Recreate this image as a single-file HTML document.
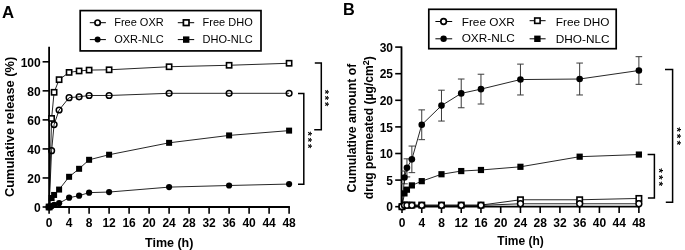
<!DOCTYPE html>
<html><head><meta charset="utf-8"><style>
html,body{margin:0;padding:0;background:#fff;}
body{width:685px;height:250px;overflow:hidden;}
svg{display:block;will-change:transform;}
</style></head><body>
<svg width="685" height="250" viewBox="0 0 685 250">
<rect width="685" height="250" fill="#fff"/>
<text x="2.0" y="18.0" font-family="'Liberation Sans', sans-serif" font-weight="bold" font-size="16.8">A</text>
<rect x="80.2" y="10.6" width="180.8" height="40.3" fill="none" stroke="#000" stroke-width="1.7"/>
<path d="M89.8,22.7H105.9M89.8,39.6H105.9M177.8,22.7H194.2M177.8,39.6H194.2" stroke="#000" stroke-width="1"/>
<circle cx="97.60" cy="22.70" r="2.70" fill="#fff" stroke="#000" stroke-width="1.7"/>
<circle cx="97.60" cy="39.60" r="3.00" fill="#000"/>
<rect x="183.40" y="19.90" width="5.60" height="5.60" fill="#fff" stroke="#000" stroke-width="1.7"/>
<rect x="183.00" y="36.40" width="6.40" height="6.40" fill="#000"/>
<text x="114.2" y="26.0" font-family="'Liberation Sans', sans-serif" font-size="11">Free OXR</text>
<text x="114.2" y="43.4" font-family="'Liberation Sans', sans-serif" font-size="11">OXR-NLC</text>
<text x="202.6" y="26.0" font-family="'Liberation Sans', sans-serif" font-size="11">Free DHO</text>
<text x="202.6" y="43.4" font-family="'Liberation Sans', sans-serif" font-size="11">DHO-NLC</text>
<path d="M49.1,46.8V207.9M48.2,207.0H289.90000000000003" stroke="#000" stroke-width="1.8" fill="none"/>
<path d="M42.6,207.00H49.1" stroke="#000" stroke-width="1.6"/>
<text x="40.7" y="212.00" font-family="'Liberation Sans', sans-serif" font-weight="bold" font-size="12" text-anchor="end">0</text>
<path d="M42.6,177.96H49.1" stroke="#000" stroke-width="1.6"/>
<text x="40.7" y="182.96" font-family="'Liberation Sans', sans-serif" font-weight="bold" font-size="12" text-anchor="end">20</text>
<path d="M42.6,148.92H49.1" stroke="#000" stroke-width="1.6"/>
<text x="40.7" y="153.92" font-family="'Liberation Sans', sans-serif" font-weight="bold" font-size="12" text-anchor="end">40</text>
<path d="M42.6,119.88H49.1" stroke="#000" stroke-width="1.6"/>
<text x="40.7" y="124.88" font-family="'Liberation Sans', sans-serif" font-weight="bold" font-size="12" text-anchor="end">60</text>
<path d="M42.6,90.84H49.1" stroke="#000" stroke-width="1.6"/>
<text x="40.7" y="95.84" font-family="'Liberation Sans', sans-serif" font-weight="bold" font-size="12" text-anchor="end">80</text>
<path d="M42.6,61.80H49.1" stroke="#000" stroke-width="1.6"/>
<text x="40.7" y="66.80" font-family="'Liberation Sans', sans-serif" font-weight="bold" font-size="12" text-anchor="end">100</text>
<path d="M49.10,207.0V213.8" stroke="#000" stroke-width="1.6"/>
<text x="49.10" y="227.4" font-family="'Liberation Sans', sans-serif" font-weight="bold" font-size="12" text-anchor="middle">0</text>
<path d="M69.10,207.0V213.8" stroke="#000" stroke-width="1.6"/>
<text x="69.10" y="227.4" font-family="'Liberation Sans', sans-serif" font-weight="bold" font-size="12" text-anchor="middle">4</text>
<path d="M89.10,207.0V213.8" stroke="#000" stroke-width="1.6"/>
<text x="89.10" y="227.4" font-family="'Liberation Sans', sans-serif" font-weight="bold" font-size="12" text-anchor="middle">8</text>
<path d="M109.10,207.0V213.8" stroke="#000" stroke-width="1.6"/>
<text x="109.10" y="227.4" font-family="'Liberation Sans', sans-serif" font-weight="bold" font-size="12" text-anchor="middle">12</text>
<path d="M129.10,207.0V213.8" stroke="#000" stroke-width="1.6"/>
<text x="129.10" y="227.4" font-family="'Liberation Sans', sans-serif" font-weight="bold" font-size="12" text-anchor="middle">16</text>
<path d="M149.10,207.0V213.8" stroke="#000" stroke-width="1.6"/>
<text x="149.10" y="227.4" font-family="'Liberation Sans', sans-serif" font-weight="bold" font-size="12" text-anchor="middle">20</text>
<path d="M169.10,207.0V213.8" stroke="#000" stroke-width="1.6"/>
<text x="169.10" y="227.4" font-family="'Liberation Sans', sans-serif" font-weight="bold" font-size="12" text-anchor="middle">24</text>
<path d="M189.10,207.0V213.8" stroke="#000" stroke-width="1.6"/>
<text x="189.10" y="227.4" font-family="'Liberation Sans', sans-serif" font-weight="bold" font-size="12" text-anchor="middle">28</text>
<path d="M209.10,207.0V213.8" stroke="#000" stroke-width="1.6"/>
<text x="209.10" y="227.4" font-family="'Liberation Sans', sans-serif" font-weight="bold" font-size="12" text-anchor="middle">32</text>
<path d="M229.10,207.0V213.8" stroke="#000" stroke-width="1.6"/>
<text x="229.10" y="227.4" font-family="'Liberation Sans', sans-serif" font-weight="bold" font-size="12" text-anchor="middle">36</text>
<path d="M249.10,207.0V213.8" stroke="#000" stroke-width="1.6"/>
<text x="249.10" y="227.4" font-family="'Liberation Sans', sans-serif" font-weight="bold" font-size="12" text-anchor="middle">40</text>
<path d="M269.10,207.0V213.8" stroke="#000" stroke-width="1.6"/>
<text x="269.10" y="227.4" font-family="'Liberation Sans', sans-serif" font-weight="bold" font-size="12" text-anchor="middle">44</text>
<path d="M289.10,207.0V213.8" stroke="#000" stroke-width="1.6"/>
<text x="289.10" y="227.4" font-family="'Liberation Sans', sans-serif" font-weight="bold" font-size="12" text-anchor="middle">48</text>
<text x="169.2" y="246.6" font-family="'Liberation Sans', sans-serif" font-weight="bold" font-size="12.5" text-anchor="middle">Time (h)</text>
<text transform="translate(14,126.9) rotate(-90)" font-family="'Liberation Sans', sans-serif" font-weight="bold" font-size="12.8" text-anchor="middle">Cumulative release (%)</text>
<path d="M314.8,63H321.3V129.8H314.2" stroke="#000" stroke-width="1.5" fill="none"/>
<path d="M298,93.4H303.8V184.2H298" stroke="#000" stroke-width="1.5" fill="none"/>
<text transform="translate(321.20,89.74) rotate(90)" font-family="'Liberation Sans', sans-serif" font-weight="bold" font-size="11.0">*</text>
<text transform="translate(321.20,95.84) rotate(90)" font-family="'Liberation Sans', sans-serif" font-weight="bold" font-size="11.0">*</text>
<text transform="translate(321.20,101.94) rotate(90)" font-family="'Liberation Sans', sans-serif" font-weight="bold" font-size="11.0">*</text>
<text transform="translate(304.10,131.54) rotate(90)" font-family="'Liberation Sans', sans-serif" font-weight="bold" font-size="11.0">*</text>
<text transform="translate(304.10,137.74) rotate(90)" font-family="'Liberation Sans', sans-serif" font-weight="bold" font-size="11.0">*</text>
<text transform="translate(304.10,143.94) rotate(90)" font-family="'Liberation Sans', sans-serif" font-weight="bold" font-size="11.0">*</text>
<polyline points="49.10,207.00 51.60,206.13 54.10,204.97 59.10,203.22 69.10,197.71 79.10,195.67 89.10,192.63 109.10,192.04 169.10,187.11 229.10,185.51 289.10,184.06" fill="none" stroke="#000" stroke-width="0.85"/>
<polyline points="49.10,207.00 51.60,198.00 54.10,194.95 59.10,189.58 69.10,176.80 79.10,168.81 89.10,159.81 109.10,154.73 169.10,142.82 229.10,135.42 289.10,130.62" fill="none" stroke="#000" stroke-width="0.85"/>
<polyline points="49.10,207.00 51.60,150.66 54.10,124.53 59.10,110.01 69.10,97.66 79.10,96.79 89.10,95.49 109.10,95.49 169.10,93.31 229.10,93.31 289.10,93.31" fill="none" stroke="#000" stroke-width="0.85"/>
<polyline points="49.10,207.00 51.60,118.43 54.10,92.29 59.10,79.66 69.10,72.40 79.10,70.95 89.10,70.08 109.10,69.79 169.10,66.74 229.10,65.28 289.10,63.25" fill="none" stroke="#000" stroke-width="0.85"/>
<circle cx="49.10" cy="207.00" r="2.85" fill="none" stroke="#000" stroke-width="1.5"/>
<circle cx="51.60" cy="150.66" r="2.85" fill="none" stroke="#000" stroke-width="1.5"/>
<circle cx="54.10" cy="124.53" r="2.85" fill="none" stroke="#000" stroke-width="1.5"/>
<circle cx="59.10" cy="110.01" r="2.85" fill="none" stroke="#000" stroke-width="1.5"/>
<circle cx="69.10" cy="97.66" r="2.85" fill="none" stroke="#000" stroke-width="1.5"/>
<circle cx="79.10" cy="96.79" r="2.85" fill="none" stroke="#000" stroke-width="1.5"/>
<circle cx="89.10" cy="95.49" r="2.85" fill="none" stroke="#000" stroke-width="1.5"/>
<circle cx="109.10" cy="95.49" r="2.85" fill="none" stroke="#000" stroke-width="1.5"/>
<circle cx="169.10" cy="93.31" r="2.85" fill="none" stroke="#000" stroke-width="1.5"/>
<circle cx="229.10" cy="93.31" r="2.85" fill="none" stroke="#000" stroke-width="1.5"/>
<circle cx="289.10" cy="93.31" r="2.85" fill="none" stroke="#000" stroke-width="1.5"/>
<rect x="46.50" y="204.40" width="5.20" height="5.20" fill="#fff" stroke="#000" stroke-width="1.6"/>
<rect x="49.00" y="115.83" width="5.20" height="5.20" fill="#fff" stroke="#000" stroke-width="1.6"/>
<rect x="51.50" y="89.69" width="5.20" height="5.20" fill="#fff" stroke="#000" stroke-width="1.6"/>
<rect x="56.50" y="77.06" width="5.20" height="5.20" fill="#fff" stroke="#000" stroke-width="1.6"/>
<rect x="66.50" y="69.80" width="5.20" height="5.20" fill="#fff" stroke="#000" stroke-width="1.6"/>
<rect x="76.50" y="68.35" width="5.20" height="5.20" fill="#fff" stroke="#000" stroke-width="1.6"/>
<rect x="86.50" y="67.48" width="5.20" height="5.20" fill="#fff" stroke="#000" stroke-width="1.6"/>
<rect x="106.50" y="67.19" width="5.20" height="5.20" fill="#fff" stroke="#000" stroke-width="1.6"/>
<rect x="166.50" y="64.14" width="5.20" height="5.20" fill="#fff" stroke="#000" stroke-width="1.6"/>
<rect x="226.50" y="62.68" width="5.20" height="5.20" fill="#fff" stroke="#000" stroke-width="1.6"/>
<rect x="286.50" y="60.65" width="5.20" height="5.20" fill="#fff" stroke="#000" stroke-width="1.6"/>
<circle cx="49.10" cy="207.00" r="3.10" fill="#000"/>
<circle cx="51.60" cy="206.13" r="3.10" fill="#000"/>
<circle cx="54.10" cy="204.97" r="3.10" fill="#000"/>
<circle cx="59.10" cy="203.22" r="3.10" fill="#000"/>
<circle cx="69.10" cy="197.71" r="3.10" fill="#000"/>
<circle cx="79.10" cy="195.67" r="3.10" fill="#000"/>
<circle cx="89.10" cy="192.63" r="3.10" fill="#000"/>
<circle cx="109.10" cy="192.04" r="3.10" fill="#000"/>
<circle cx="169.10" cy="187.11" r="3.10" fill="#000"/>
<circle cx="229.10" cy="185.51" r="3.10" fill="#000"/>
<circle cx="289.10" cy="184.06" r="3.10" fill="#000"/>
<rect x="46.10" y="204.00" width="6.00" height="6.00" fill="#000"/>
<rect x="48.60" y="195.00" width="6.00" height="6.00" fill="#000"/>
<rect x="51.10" y="191.95" width="6.00" height="6.00" fill="#000"/>
<rect x="56.10" y="186.58" width="6.00" height="6.00" fill="#000"/>
<rect x="66.10" y="173.80" width="6.00" height="6.00" fill="#000"/>
<rect x="76.10" y="165.81" width="6.00" height="6.00" fill="#000"/>
<rect x="86.10" y="156.81" width="6.00" height="6.00" fill="#000"/>
<rect x="106.10" y="151.73" width="6.00" height="6.00" fill="#000"/>
<rect x="166.10" y="139.82" width="6.00" height="6.00" fill="#000"/>
<rect x="226.10" y="132.42" width="6.00" height="6.00" fill="#000"/>
<rect x="286.10" y="127.62" width="6.00" height="6.00" fill="#000"/>
<text x="343.1" y="15" font-family="'Liberation Sans', sans-serif" font-weight="bold" font-size="16.3">B</text>
<rect x="428.8" y="9.3" width="187.4" height="39.4" fill="none" stroke="#000" stroke-width="1.7"/>
<path d="M435.4,21.5H452.2M435.4,38.8H452.2M529.6,20.7H545.6M529.6,38.8H545.6" stroke="#000" stroke-width="1"/>
<circle cx="443.60" cy="21.50" r="2.80" fill="#fff" stroke="#000" stroke-width="1.7"/>
<circle cx="443.60" cy="38.80" r="3.20" fill="#000"/>
<rect x="534.70" y="18.00" width="5.40" height="5.40" fill="#fff" stroke="#000" stroke-width="1.6"/>
<rect x="534.20" y="35.60" width="6.40" height="6.40" fill="#000"/>
<text x="461.7" y="25.7" font-family="'Liberation Sans', sans-serif" font-size="11.8">Free OXR</text>
<text x="461.7" y="42.4" font-family="'Liberation Sans', sans-serif" font-size="11.8">OXR-NLC</text>
<text x="555.8" y="25.7" font-family="'Liberation Sans', sans-serif" font-size="11.8">Free DHO</text>
<text x="555.8" y="42.7" font-family="'Liberation Sans', sans-serif" font-size="11.8">DHO-NLC</text>
<path d="M401.5,46.4V207.6M400.6,206.7H639.68" stroke="#000" stroke-width="1.8" fill="none"/>
<path d="M395.2,206.70H401.5" stroke="#000" stroke-width="1.6"/>
<text x="393.0" y="211.30" font-family="'Liberation Sans', sans-serif" font-weight="bold" font-size="12" text-anchor="end">0</text>
<path d="M395.2,180.10H401.5" stroke="#000" stroke-width="1.6"/>
<text x="393.0" y="184.70" font-family="'Liberation Sans', sans-serif" font-weight="bold" font-size="12" text-anchor="end">5</text>
<path d="M395.2,153.50H401.5" stroke="#000" stroke-width="1.6"/>
<text x="393.0" y="158.10" font-family="'Liberation Sans', sans-serif" font-weight="bold" font-size="12" text-anchor="end">10</text>
<path d="M395.2,126.90H401.5" stroke="#000" stroke-width="1.6"/>
<text x="393.0" y="131.50" font-family="'Liberation Sans', sans-serif" font-weight="bold" font-size="12" text-anchor="end">15</text>
<path d="M395.2,100.30H401.5" stroke="#000" stroke-width="1.6"/>
<text x="393.0" y="104.90" font-family="'Liberation Sans', sans-serif" font-weight="bold" font-size="12" text-anchor="end">20</text>
<path d="M395.2,73.70H401.5" stroke="#000" stroke-width="1.6"/>
<text x="393.0" y="78.30" font-family="'Liberation Sans', sans-serif" font-weight="bold" font-size="12" text-anchor="end">25</text>
<path d="M395.2,47.10H401.5" stroke="#000" stroke-width="1.6"/>
<text x="393.0" y="51.70" font-family="'Liberation Sans', sans-serif" font-weight="bold" font-size="12" text-anchor="end">30</text>
<path d="M402.00,206.7V213" stroke="#000" stroke-width="1.6"/>
<text x="402.00" y="227.4" font-family="'Liberation Sans', sans-serif" font-weight="bold" font-size="12" text-anchor="middle">0</text>
<path d="M421.74,206.7V213" stroke="#000" stroke-width="1.6"/>
<text x="421.74" y="227.4" font-family="'Liberation Sans', sans-serif" font-weight="bold" font-size="12" text-anchor="middle">4</text>
<path d="M441.48,206.7V213" stroke="#000" stroke-width="1.6"/>
<text x="441.48" y="227.4" font-family="'Liberation Sans', sans-serif" font-weight="bold" font-size="12" text-anchor="middle">8</text>
<path d="M461.22,206.7V213" stroke="#000" stroke-width="1.6"/>
<text x="461.22" y="227.4" font-family="'Liberation Sans', sans-serif" font-weight="bold" font-size="12" text-anchor="middle">12</text>
<path d="M480.96,206.7V213" stroke="#000" stroke-width="1.6"/>
<text x="480.96" y="227.4" font-family="'Liberation Sans', sans-serif" font-weight="bold" font-size="12" text-anchor="middle">16</text>
<path d="M500.70,206.7V213" stroke="#000" stroke-width="1.6"/>
<text x="500.70" y="227.4" font-family="'Liberation Sans', sans-serif" font-weight="bold" font-size="12" text-anchor="middle">20</text>
<path d="M520.44,206.7V213" stroke="#000" stroke-width="1.6"/>
<text x="520.44" y="227.4" font-family="'Liberation Sans', sans-serif" font-weight="bold" font-size="12" text-anchor="middle">24</text>
<path d="M540.18,206.7V213" stroke="#000" stroke-width="1.6"/>
<text x="540.18" y="227.4" font-family="'Liberation Sans', sans-serif" font-weight="bold" font-size="12" text-anchor="middle">28</text>
<path d="M559.92,206.7V213" stroke="#000" stroke-width="1.6"/>
<text x="559.92" y="227.4" font-family="'Liberation Sans', sans-serif" font-weight="bold" font-size="12" text-anchor="middle">32</text>
<path d="M579.66,206.7V213" stroke="#000" stroke-width="1.6"/>
<text x="579.66" y="227.4" font-family="'Liberation Sans', sans-serif" font-weight="bold" font-size="12" text-anchor="middle">36</text>
<path d="M599.40,206.7V213" stroke="#000" stroke-width="1.6"/>
<text x="599.40" y="227.4" font-family="'Liberation Sans', sans-serif" font-weight="bold" font-size="12" text-anchor="middle">40</text>
<path d="M619.14,206.7V213" stroke="#000" stroke-width="1.6"/>
<text x="619.14" y="227.4" font-family="'Liberation Sans', sans-serif" font-weight="bold" font-size="12" text-anchor="middle">44</text>
<path d="M638.88,206.7V213" stroke="#000" stroke-width="1.6"/>
<text x="638.88" y="227.4" font-family="'Liberation Sans', sans-serif" font-weight="bold" font-size="12" text-anchor="middle">48</text>
<text x="520.5" y="245.0" font-family="'Liberation Sans', sans-serif" font-weight="bold" font-size="12" text-anchor="middle">Time (h)</text>
<text transform="translate(355.8,128.1) rotate(-90)" font-family="'Liberation Sans', sans-serif" font-weight="bold" font-size="12.25" text-anchor="middle">Cumulative amount of</text>
<text transform="translate(373.4,127.7) rotate(-90)" font-family="'Liberation Sans', sans-serif" font-weight="bold" font-size="12.1" text-anchor="middle">drug permeated (µg/cm<tspan font-size="9" dy="-4.8">2</tspan><tspan dy="4.8">)</tspan></text>
<path d="M665,69.5H672.6V202.2H665.8" stroke="#000" stroke-width="1.5" fill="none"/>
<path d="M647.6,154.6H654.4V198H647.9" stroke="#000" stroke-width="1.5" fill="none"/>
<text transform="translate(672.70,127.19) rotate(90)" font-family="'Liberation Sans', sans-serif" font-weight="bold" font-size="11.8">*</text>
<text transform="translate(672.70,133.79) rotate(90)" font-family="'Liberation Sans', sans-serif" font-weight="bold" font-size="11.8">*</text>
<text transform="translate(672.70,140.39) rotate(90)" font-family="'Liberation Sans', sans-serif" font-weight="bold" font-size="11.8">*</text>
<text transform="translate(655.30,168.29) rotate(90)" font-family="'Liberation Sans', sans-serif" font-weight="bold" font-size="11.8">*</text>
<text transform="translate(655.30,174.99) rotate(90)" font-family="'Liberation Sans', sans-serif" font-weight="bold" font-size="11.8">*</text>
<text transform="translate(655.30,181.59) rotate(90)" font-family="'Liberation Sans', sans-serif" font-weight="bold" font-size="11.8">*</text>
<path d="M404.47,171.06V183.82M401.17,171.06h6.6M401.17,183.82h6.6" stroke="#3a3a3a" stroke-width="1.0" fill="none"/>
<path d="M406.94,158.82V176.91M403.63,158.82h6.6M403.63,176.91h6.6" stroke="#3a3a3a" stroke-width="1.0" fill="none"/>
<path d="M411.87,146.05V172.65M408.57,146.05h6.6M408.57,172.65h6.6" stroke="#3a3a3a" stroke-width="1.0" fill="none"/>
<path d="M421.74,109.88V139.67M418.44,109.88h6.6M418.44,139.67h6.6" stroke="#3a3a3a" stroke-width="1.0" fill="none"/>
<path d="M441.48,90.19V121.05M438.18,90.19h6.6M438.18,121.05h6.6" stroke="#3a3a3a" stroke-width="1.0" fill="none"/>
<path d="M461.22,79.02V107.75M457.92,79.02h6.6M457.92,107.75h6.6" stroke="#3a3a3a" stroke-width="1.0" fill="none"/>
<path d="M480.96,74.23V104.02M477.66,74.23h6.6M477.66,104.02h6.6" stroke="#3a3a3a" stroke-width="1.0" fill="none"/>
<path d="M520.44,64.12V94.98M517.14,64.12h6.6M517.14,94.98h6.6" stroke="#3a3a3a" stroke-width="1.0" fill="none"/>
<path d="M579.66,63.06V94.98M576.36,63.06h6.6M576.36,94.98h6.6" stroke="#3a3a3a" stroke-width="1.0" fill="none"/>
<path d="M638.88,56.68V84.34M635.58,56.68h6.6M635.58,84.34h6.6" stroke="#3a3a3a" stroke-width="1.0" fill="none"/>
<polyline points="402.00,206.70 404.47,177.44 406.94,167.86 411.87,159.35 421.74,124.77 441.48,105.62 461.22,93.38 480.96,89.13 520.44,79.55 579.66,79.02 638.88,70.51" fill="none" stroke="#000" stroke-width="0.85"/>
<polyline points="402.00,206.70 404.47,193.40 406.94,189.68 411.87,185.42 421.74,181.16 441.48,174.25 461.22,171.06 480.96,169.99 520.44,166.80 579.66,156.69 638.88,154.56" fill="none" stroke="#000" stroke-width="0.85"/>
<polyline points="402.00,206.70 404.47,205.37 406.94,205.37 411.87,205.37 421.74,205.37 441.48,205.37 461.22,205.37 480.96,205.37 520.44,203.77 579.66,203.77 638.88,203.77" fill="none" stroke="#000" stroke-width="0.85"/>
<polyline points="402.00,206.70 404.47,205.10 406.94,205.10 411.87,205.10 421.74,205.10 441.48,205.10 461.22,205.10 480.96,205.10 520.44,199.78 579.66,199.78 638.88,198.45" fill="none" stroke="#000" stroke-width="0.85"/>
<rect x="398.90" y="203.60" width="6.20" height="6.20" fill="#000"/>
<rect x="401.37" y="190.30" width="6.20" height="6.20" fill="#000"/>
<rect x="403.83" y="186.58" width="6.20" height="6.20" fill="#000"/>
<rect x="408.77" y="182.32" width="6.20" height="6.20" fill="#000"/>
<rect x="418.64" y="178.06" width="6.20" height="6.20" fill="#000"/>
<rect x="438.38" y="171.15" width="6.20" height="6.20" fill="#000"/>
<rect x="458.12" y="167.96" width="6.20" height="6.20" fill="#000"/>
<rect x="477.86" y="166.89" width="6.20" height="6.20" fill="#000"/>
<rect x="517.34" y="163.70" width="6.20" height="6.20" fill="#000"/>
<rect x="576.56" y="153.59" width="6.20" height="6.20" fill="#000"/>
<rect x="635.78" y="151.46" width="6.20" height="6.20" fill="#000"/>
<rect x="399.30" y="204.00" width="5.40" height="5.40" fill="#fff" stroke="#000" stroke-width="1.6"/>
<rect x="401.77" y="202.40" width="5.40" height="5.40" fill="#fff" stroke="#000" stroke-width="1.6"/>
<rect x="404.24" y="202.40" width="5.40" height="5.40" fill="#fff" stroke="#000" stroke-width="1.6"/>
<rect x="409.17" y="202.40" width="5.40" height="5.40" fill="#fff" stroke="#000" stroke-width="1.6"/>
<rect x="419.04" y="202.40" width="5.40" height="5.40" fill="#fff" stroke="#000" stroke-width="1.6"/>
<rect x="438.78" y="202.40" width="5.40" height="5.40" fill="#fff" stroke="#000" stroke-width="1.6"/>
<rect x="458.52" y="202.40" width="5.40" height="5.40" fill="#fff" stroke="#000" stroke-width="1.6"/>
<rect x="478.26" y="202.40" width="5.40" height="5.40" fill="#fff" stroke="#000" stroke-width="1.6"/>
<rect x="517.74" y="197.08" width="5.40" height="5.40" fill="#fff" stroke="#000" stroke-width="1.6"/>
<rect x="576.96" y="197.08" width="5.40" height="5.40" fill="#fff" stroke="#000" stroke-width="1.6"/>
<rect x="636.18" y="195.75" width="5.40" height="5.40" fill="#fff" stroke="#000" stroke-width="1.6"/>
<circle cx="402.00" cy="206.70" r="2.90" fill="#fff" stroke="#000" stroke-width="1.5"/>
<circle cx="404.47" cy="205.37" r="2.90" fill="#fff" stroke="#000" stroke-width="1.5"/>
<circle cx="406.94" cy="205.37" r="2.90" fill="#fff" stroke="#000" stroke-width="1.5"/>
<circle cx="411.87" cy="205.37" r="2.90" fill="#fff" stroke="#000" stroke-width="1.5"/>
<circle cx="421.74" cy="205.37" r="2.90" fill="#fff" stroke="#000" stroke-width="1.5"/>
<circle cx="441.48" cy="205.37" r="2.90" fill="#fff" stroke="#000" stroke-width="1.5"/>
<circle cx="461.22" cy="205.37" r="2.90" fill="#fff" stroke="#000" stroke-width="1.5"/>
<circle cx="480.96" cy="205.37" r="2.90" fill="#fff" stroke="#000" stroke-width="1.5"/>
<circle cx="520.44" cy="203.77" r="2.90" fill="#fff" stroke="#000" stroke-width="1.5"/>
<circle cx="579.66" cy="203.77" r="2.90" fill="#fff" stroke="#000" stroke-width="1.5"/>
<circle cx="638.88" cy="203.77" r="2.90" fill="#fff" stroke="#000" stroke-width="1.5"/>
<circle cx="404.47" cy="177.44" r="3.30" fill="#000"/>
<circle cx="406.94" cy="167.86" r="3.30" fill="#000"/>
<circle cx="411.87" cy="159.35" r="3.30" fill="#000"/>
<circle cx="421.74" cy="124.77" r="3.30" fill="#000"/>
<circle cx="441.48" cy="105.62" r="3.30" fill="#000"/>
<circle cx="461.22" cy="93.38" r="3.30" fill="#000"/>
<circle cx="480.96" cy="89.13" r="3.30" fill="#000"/>
<circle cx="520.44" cy="79.55" r="3.30" fill="#000"/>
<circle cx="579.66" cy="79.02" r="3.30" fill="#000"/>
<circle cx="638.88" cy="70.51" r="3.30" fill="#000"/>
</svg>
</body></html>
